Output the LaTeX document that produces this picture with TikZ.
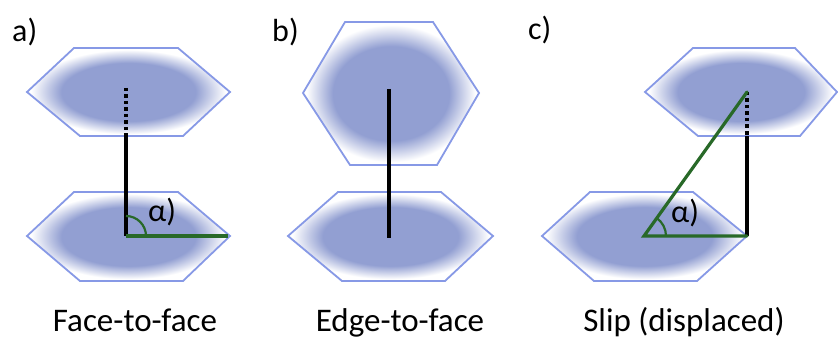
\documentclass[tikz,border=0pt]{standalone}
\usepackage{fontspec}
\setmainfont{Carlito}
\definecolor{hexin}{RGB}{146,159,210}
\definecolor{hexline}{RGB}{135,153,230}
\definecolor{angg}{RGB}{40,105,40}
\pgfdeclareradialshading{hexsh}{\pgfpoint{0bp}{0bp}}{color(0bp)=(hexin); color(16.5bp)=(hexin); color(24bp)=(white); color(25bp)=(white); color(50bp)=(white)}
\tikzset{
  hexa/.style={shading=hexsh, draw=hexline, line width=1.8pt, line join=miter},
  bond/.style={line width=3.2pt, black},
  dotbond/.style={line width=3.2pt, black, dash pattern=on 3.5pt off 3pt},
  gline/.style={line width=3.2pt, angg},
  garc/.style={line width=2.2pt, angg},
  lab/.style={font=\fontsize{32}{36}\selectfont, inner sep=0pt, anchor=base west},
  captext/.style={font=\fontsize{33}{38}\selectfont, inner sep=0pt, anchor=base},
  alab/.style={font=\fontsize{32}{36}\selectfont, inner sep=0pt, anchor=base west},
}
\begin{document}
\begin{tikzpicture}[x=1pt,y=1pt]
\useasboundingbox (0,0) rectangle (838,338);
% a) hexagons
\shadedraw[hexa] (27,246) -- (74,290) -- (178,290) -- (230,246) -- (183,202) -- (80,202) -- cycle;
\shadedraw[hexa] (27,102) -- (74,146) -- (178,146) -- (230,102) -- (183,57) -- (80,57) -- cycle;
% b) hexagons
\shadedraw[hexa] (303,245) -- (345,316) -- (433,316) -- (479,245) -- (437,173) -- (350,173) -- cycle;
\shadedraw[hexa] (288,102) -- (338,146) -- (441,146) -- (493,102) -- (445,57) -- (342,57) -- cycle;
% c) hexagons
\shadedraw[hexa] (645,246) -- (693,290) -- (795,290) -- (837,246) -- (800,202) -- (698,202) -- cycle;
\shadedraw[hexa] (542,102) -- (590,146) -- (693,146) -- (747,102) -- (697,57) -- (594,57) -- cycle;

% a)
\coordinate (aT) at (126,250);
\coordinate (aM) at (126,205);
\coordinate (aO) at (126,102);
\coordinate (aR) at (228,102);
\draw[dotbond] (aT) -- (aM);
\draw[bond] (aM) -- (aO);
\draw[gline] (aO) -- (aR);
\draw[garc] ([xshift=20pt]aO) arc (0:90:20pt);
\node[alab] (alpha1) at (148,117) {α)};

% b)
\coordinate (bT) at (389,249);
\coordinate (bB) at (389,100);
\draw[bond] (bT) -- (bB);

% c)
\coordinate (cO) at (644,102);
\coordinate (cR) at (747,102);
\coordinate (cT) at (747,246);
\coordinate (cM) at (747,202);
\draw[dotbond] (cT) -- (cM);
\draw[bond] (cM) -- (cR);
\draw[gline, line cap=round] (cT) -- (cO) -- (cR);
\draw[garc] ([xshift=22pt]cO) arc (0:54.4:22pt);
\node[alab] (alpha2) at (671,116) {α)};

% panel labels
\node[lab] (la) at (12,296) {a)};
\node[lab] (lb) at (272,296) {b)};
\node[lab] (lc) at (528,298) {c)};

% captions
\node[captext] (ca) at (135,7) {Face-to-face};
\node[captext] (cb) at (400,7) {Edge-to-face};
\node[captext] (cc) at (684,7) {Slip (displaced)};
\end{tikzpicture}
\end{document}
